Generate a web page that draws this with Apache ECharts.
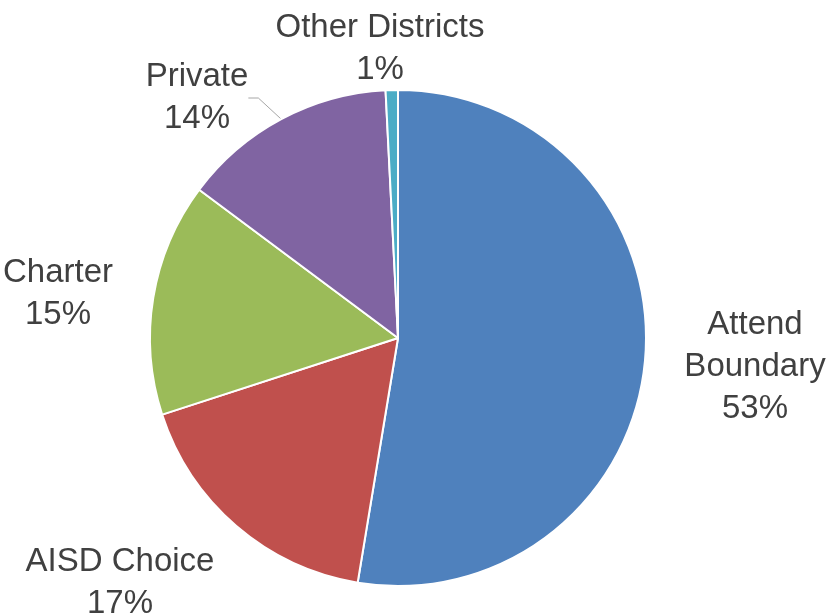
<!DOCTYPE html>
<html>
<head>
<meta charset="utf-8">
<script src="https://cdn.jsdelivr.net/npm/echarts@6/dist/echarts.min.js"></script>
<style>
  html, body { margin: 0; padding: 0; background: #fff; }
  #chart { width: 833px; height: 616px; }
</style>
</head>
<body>
<div id="chart"></div>
<script>
// shares
var categories = ["Attend\nBoundary", "AISD Choice", "Charter", "Private", "Other Districts"];
var shares = [52.6, 17.4, 15.2, 14.0, 0.8];
var colors = ["#4F81BD", "#C0504D", "#9BBB59", "#8064A2", "#4BACC6"];

// where each label sits (centre of text block)
var labelSpots = [
    { x: 755, y: 367 },
    { x: 120, y: 583 },
    { x: 58, y: 294 },
    { x: 197, y: 98 },
    { x: 380, y: 49 }
];

var pieData = categories.map(function (name, i) {
    return {
        name: name,
        value: shares[i],
        itemStyle: { color: colors[i] },
        labelLine: { show: i === 3 }
    };
});

var option = {
    animation: false,
    backgroundColor: "#fff",
    series: [{
        type: "pie",
        center: [398, 338],
        radius: 248,
        startAngle: 90,
        clockwise: true,
        percentPrecision: 0,
        itemStyle: { borderColor: "#fff", borderWidth: 2 },
        label: {
            show: true,
            position: "outside",
            formatter: "{b}\n{d}%",
            fontFamily: "Liberation Sans, Arial, sans-serif",
            fontSize: 33,
            lineHeight: 42,
            color: "#404040",
            align: "center"
        },
        labelLine: {
            show: false,
            length: 10,
            length2: 10,
            lineStyle: { color: "#a6a6a6", width: 1 }
        },
        labelLayout: function (params) {
            var spot = labelSpots[params.dataIndex];
            return {
                x: spot.x,
                y: spot.y,
                align: "center",
                verticalAlign: "middle"
            };
        },
        data: pieData
    }]
};

var myChart = echarts.init(document.getElementById("chart"));
myChart.setOption(option);
</script>
</body>
</html>
